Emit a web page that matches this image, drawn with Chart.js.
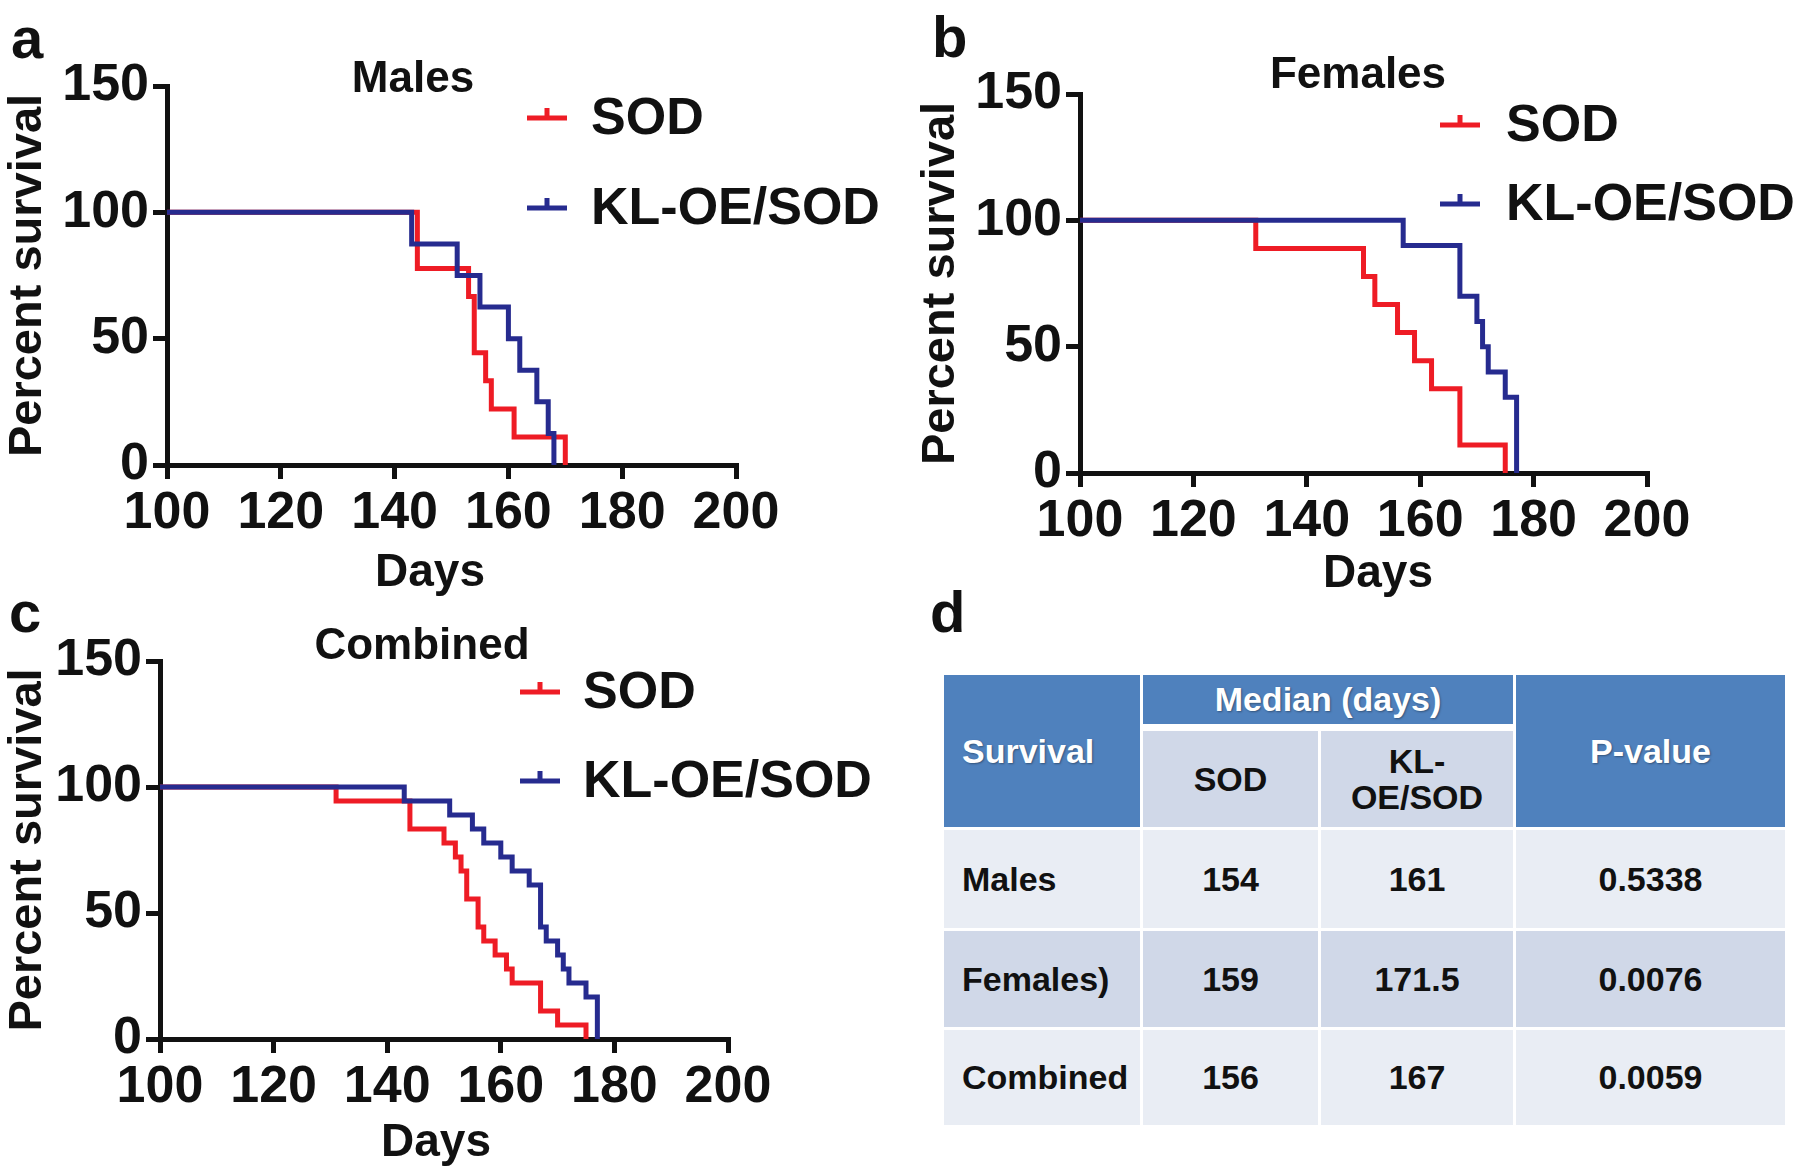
<!DOCTYPE html>
<html>
<head>
<meta charset="utf-8">
<script src="https://cdn.jsdelivr.net/npm/chart.js@4.4.1/dist/chart.umd.min.js"></script>
<style>
  body { margin: 0; width: 1800px; height: 1176px; background: #fff; position: relative; overflow: hidden; }
  .panel { position: absolute; }
  #letterD { position: absolute; left: 930px; top: 583px; font: bold 58px "Liberation Sans", Arial, sans-serif; line-height: 58px; color: #111; }
  #tbl { position: absolute; left: 941px; top: 672px; width: 844px; border-collapse: collapse; table-layout: fixed;
         font: bold 34px "Liberation Sans", Arial, sans-serif; }
  #tbl td { border: 3px solid #fff; padding: 0; text-align: center; vertical-align: middle; color: #111; }
  #tbl td.hd { background: #4f81bd; color: #fff; text-shadow: 1px 1px 2px rgba(0,0,0,0.35); }
  #tbl td.sub { background: #d0d8e8; border-top: 7px solid #fff; line-height: 36px; }
  #tbl td.first { text-align: left; padding-left: 18px; }
  #tbl tr.lt td { background: #e9edf4; }
  #tbl tr.dk td { background: #d0d8e8; }
</style>
</head>
<body>
<div class="panel" style="left:0;top:0"><canvas id="chartA" width="900" height="600"></canvas></div>
<div class="panel" style="left:900px;top:0"><canvas id="chartB" width="900" height="600"></canvas></div>
<div class="panel" style="left:0;top:590px"><canvas id="chartC" width="900" height="586"></canvas></div>
<div id="letterD">d</div>
<table id="tbl"></table>
<script>
// survival curves: day of each step and percent surviving after it
var malesSodDays = [100, 144, 153, 154, 156, 157, 161, 170];
var malesSodSurv = [100, 77.8, 66.7, 44.4, 33.3, 22.2, 11.1, 0];
var malesKlDays = [100, 143, 151, 155, 160, 162, 165, 167, 168];
var malesKlSurv = [100, 87.5, 75, 62.5, 50, 37.5, 25, 12.5, 0];

var femalesSodDays = [100, 131, 150, 152, 156, 159, 162, 167, 175];
var femalesSodSurv = [100, 88.9, 77.8, 66.7, 55.6, 44.4, 33.3, 11.1, 0];
var femalesKlDays = [100, 157, 167, 170, 171, 172, 175, 177];
var femalesKlSurv = [100, 90, 70, 60, 50, 40, 30, 0];

var combinedSodDays = [100, 131, 144, 150, 152, 153, 154, 156, 157, 159, 161, 162, 167, 170, 175];
var combinedSodSurv = [100, 94.4, 83.3, 77.8, 72.2, 66.7, 55.6, 44.4, 38.9, 33.3, 27.8, 22.2, 11.1, 5.6, 0];
var combinedKlDays = [100, 143, 151, 155, 157, 160, 162, 165, 167, 168, 170, 171, 172, 175, 177];
var combinedKlSurv = [100, 94.4, 88.9, 83.3, 77.8, 72.2, 66.7, 61.1, 44.4, 38.9, 33.3, 27.8, 22.2, 16.7, 0];

var seriesNames = ['SOD', 'KL-OE/SOD'];
var xTicks = [100, 120, 140, 160, 180, 200];
var yTicks = [0, 50, 100, 150];

// table d
var tableGroups = ['Males', 'Females)', 'Combined'];
var medianSod = ['154', '159', '156'];
var medianKl = ['161', '171.5', '167'];
var pValues = ['0.5338', '0.0076', '0.0059'];

var FONT = '"Liberation Sans", Arial, sans-serif';
var RED = '#ee1c25';
var BLUE = '#262b8f';
var INK = '#111';

function toPoints(days, surv) {
  var pts = [];
  for (var i = 0; i < days.length; i++) pts.push({ x: days[i], y: surv[i] });
  return pts;
}

// panel letter, title, legend and "Days" drawn on top of the chart
var decor = {
  id: 'decor',
  afterDraw: function (chart, args, o) {
    var ctx = chart.ctx;
    ctx.save();
    ctx.fillStyle = INK;
    ctx.textAlign = 'left';
    ctx.textBaseline = 'alphabetic';
    ctx.font = 'bold 58px ' + FONT;
    ctx.fillText(o.letter, o.letterX, o.letterY);

    ctx.textAlign = 'center';
    ctx.textBaseline = 'middle';
    ctx.font = 'bold 44px ' + FONT;
    ctx.fillText(o.title, o.titleX, o.titleY);
    ctx.font = 'bold 46px ' + FONT;
    ctx.fillText('Days', o.daysX, o.daysY);

    ctx.textAlign = 'left';
    ctx.font = 'bold 52px ' + FONT;
    chart.data.datasets.forEach(function (ds, i) {
      var y = o.legendY[i];
      ctx.strokeStyle = ds.borderColor;
      ctx.lineWidth = 5;
      ctx.beginPath();
      ctx.moveTo(o.lineX, y);
      ctx.lineTo(o.lineX + 40, y);
      ctx.moveTo(o.lineX + 20, y);
      ctx.lineTo(o.lineX + 20, y - 10);
      ctx.stroke();
      ctx.fillText(ds.label, o.textX, y + 2);
    });
    ctx.restore();
  }
};

function makeChart(id, p, sodDays, sodSurv, klDays, klSurv) {
  var axisGrid = { display: true, drawOnChartArea: false, drawTicks: true, tickLength: 14, color: INK, lineWidth: 5 };
  return new Chart(document.getElementById(id), {
    type: 'line',
    data: {
      datasets: [{
        label: seriesNames[0],
        data: toPoints(sodDays, sodSurv),
        borderColor: RED,
        order: 1
      }, {
        label: seriesNames[1],
        data: toPoints(klDays, klSurv),
        borderColor: BLUE,
        order: 0
      }]
    },
    options: {
      responsive: false,
      animation: false,
      layout: { padding: { top: p.top, right: p.right, bottom: 0, left: 0 } },
      elements: {
        line: { stepped: true, borderWidth: 5, fill: false, borderCapStyle: 'butt', borderJoinStyle: 'miter', tension: 0 },
        point: { radius: 0 }
      },
      plugins: {
        legend: { display: false },
        tooltip: { enabled: false },
        decor: p
      },
      scales: {
        x: {
          type: 'linear', min: 100, max: 200,
          afterBuildTicks: function (s) { s.ticks = xTicks.map(function (v) { return { value: v }; }); },
          afterFit: function (s) { s.height = p.xHeight; },
          ticks: { color: INK, padding: 3, maxRotation: 0, font: { family: FONT, size: 52, weight: 'bold' } },
          grid: axisGrid,
          border: { display: true, color: INK, width: 5 }
        },
        y: {
          min: 0, max: 150,
          afterBuildTicks: function (s) { s.ticks = yTicks.map(function (v) { return { value: v }; }); },
          afterFit: function (s) { s.width = p.yWidth; },
          ticks: { color: INK, padding: 4, font: { family: FONT, size: 52, weight: 'bold' } },
          grid: axisGrid,
          border: { display: true, color: INK, width: 5 },
          title: { display: true, text: 'Percent survival', color: INK, padding: { top: p.yTitlePad, bottom: 0 },
                   font: { family: FONT, size: 47, weight: 'bold' } }
        }
      }
    },
    plugins: [decor]
  });
}

makeChart('chartA', {
  top: 86, right: 164, yWidth: 167, xHeight: 135, yTitlePad: 0,
  letter: 'a', letterX: 11, letterY: 58, title: 'Males', titleX: 413, titleY: 80,
  daysX: 430, daysY: 573, lineX: 527, textX: 591, legendY: [118, 208]
}, malesSodDays, malesSodSurv, malesKlDays, malesKlSurv);

makeChart('chartB', {
  top: 94, right: 153, yWidth: 180, xHeight: 127, yTitlePad: 13,
  letter: 'b', letterX: 32, letterY: 57, title: 'Females', titleX: 458, titleY: 76,
  daysX: 478, daysY: 574, lineX: 540, textX: 606, legendY: [125, 204]
}, femalesSodDays, femalesSodSurv, femalesKlDays, femalesKlSurv);

makeChart('chartC', {
  top: 71, right: 172, yWidth: 160, xHeight: 137, yTitlePad: 0,
  letter: 'c', letterX: 9, letterY: 42, title: 'Combined', titleX: 422, titleY: 57,
  daysX: 436, daysY: 553, lineX: 520, textX: 583, legendY: [102, 191]
}, combinedSodDays, combinedSodSurv, combinedKlDays, combinedKlSurv);

// table
var html = '<colgroup><col style="width:199px"><col style="width:178px"><col style="width:195px"><col style="width:272px"></colgroup>';
html += '<tr style="height:54px"><td class="hd first" rowspan="2">Survival</td><td class="hd" colspan="2">Median (days)</td><td class="hd" rowspan="2">P-value</td></tr>';
html += '<tr style="height:101px"><td class="sub">SOD</td><td class="sub">KL-<br>OE/SOD</td></tr>';
var rowH = [101, 99, 98];
for (var r = 0; r < tableGroups.length; r++) {
  html += '<tr class="' + (r % 2 ? 'dk' : 'lt') + '" style="height:' + rowH[r] + 'px">' +
    '<td class="first">' + tableGroups[r] + '</td><td>' + medianSod[r] + '</td><td>' + medianKl[r] + '</td><td>' + pValues[r] + '</td></tr>';
}
document.getElementById('tbl').innerHTML = html;
</script>
</body>
</html>
